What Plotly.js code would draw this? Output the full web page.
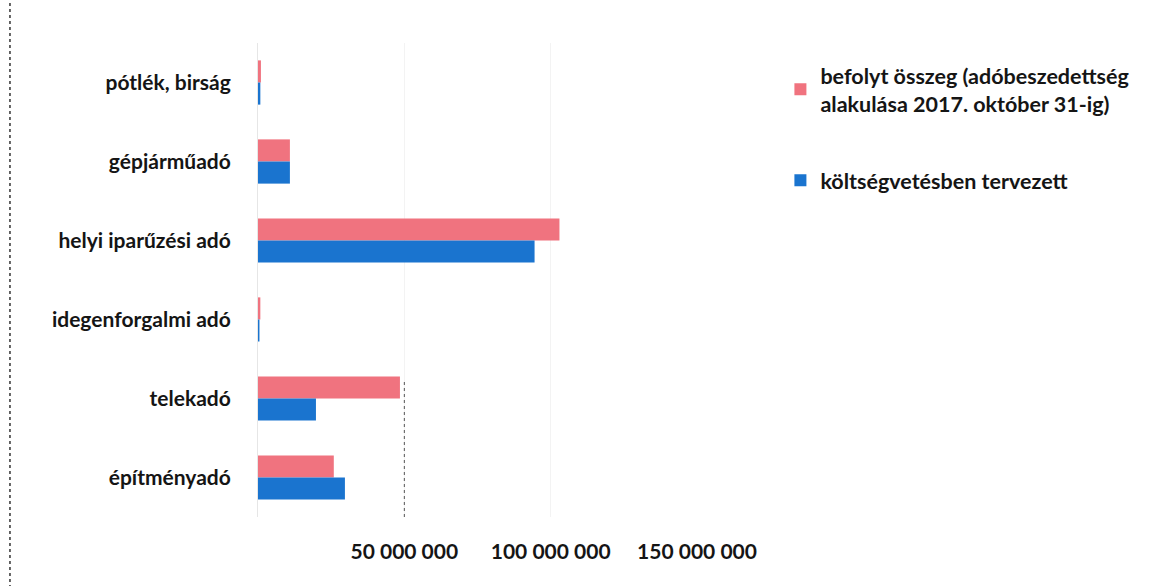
<!DOCTYPE html>
<html>
<head>
<meta charset="utf-8">
<script src="https://cdn.plot.ly/plotly-3.0.1.min.js"></script>
<style>html,body{margin:0;padding:0;background:#fff;}#chart{width:1166px;height:586px;}</style>
</head>
<body>
<div id="chart"></div>
<script>
const categories = ["pótlék, birság", "gépjárműadó", "helyi iparűzési adó", "idegenforgalmi adó", "telekadó", "építményadó"];
const befolyt = [1000000, 10900000, 103000000, 800000, 48500000, 25900000];
const tervezett = [800000, 10900000, 94500000, 500000, 19800000, 29700000];
const tickValues = [50000000, 100000000, 150000000];
const tickLabels = ["50 000 000", "100 000 000", "150 000 000"];
const seriesNames = ["befolyt összeg (adóbeszedettség<br>alakulása 2017. október 31-ig)", "költségvetésben tervezett"];

const font = {family: "Lato, 'Open Sans', sans-serif", color: "#151515", size: 21, weight: "bold"};
const legendFont = {family: "Lato, 'Open Sans', sans-serif", color: "#151515", size: 21.5, weight: "bold"};

const data = [
  {type: "bar", orientation: "h", y: categories, x: befolyt, name: seriesNames[0], legendgroup: "a",
   marker: {color: "#f0737f"}},
  {type: "bar", orientation: "h", y: categories, x: tervezett, name: seriesNames[1], legendgroup: "b",
   marker: {color: "#1a74cf"}}
];

const layout = {
  width: 1166, height: 586,
  margin: {l: 258, r: 469, t: 43, b: 69},
  paper_bgcolor: "#fff", plot_bgcolor: "#fff",
  barmode: "group", bargap: 0.44, bargroupgap: 0,
  font: font,
  xaxis: {range: [0, 150000000], tickvals: tickValues, ticktext: tickLabels, showgrid: true,
          gridcolor: "#f3f3f3", zeroline: false, showline: false, ticks: "", ticklabelstandoff: 20,
          tickfont: font},
  yaxis: {autorange: "reversed", showgrid: false, zeroline: false, showline: true, linecolor: "#e6e6e6",
          ticks: "", ticklabelstandoff: 22, tickfont: font},
  legend: {x: 1.19, y: 0.975, xanchor: "left", yanchor: "top", font: legendFont, tracegroupgap: 46,
           itemwidth: 30, bgcolor: "rgba(0,0,0,0)"},
  showlegend: true,
  shapes: [
    {type: "line", xref: "paper", yref: "paper", x0: -0.565, x1: -0.565, y0: -0.15, y1: 1.09,
     line: {color: "#333", width: 1.5, dash: "dot"}},
    {type: "line", xref: "x", yref: "paper", x0: 50000000, x1: 50000000, y0: 0, y1: 0.29,
     line: {color: "#555", width: 1, dash: "dot"}}
  ]
};

Plotly.newPlot("chart", data, layout, {displayModeBar: false, staticPlot: true});
</script>
</body>
</html>
